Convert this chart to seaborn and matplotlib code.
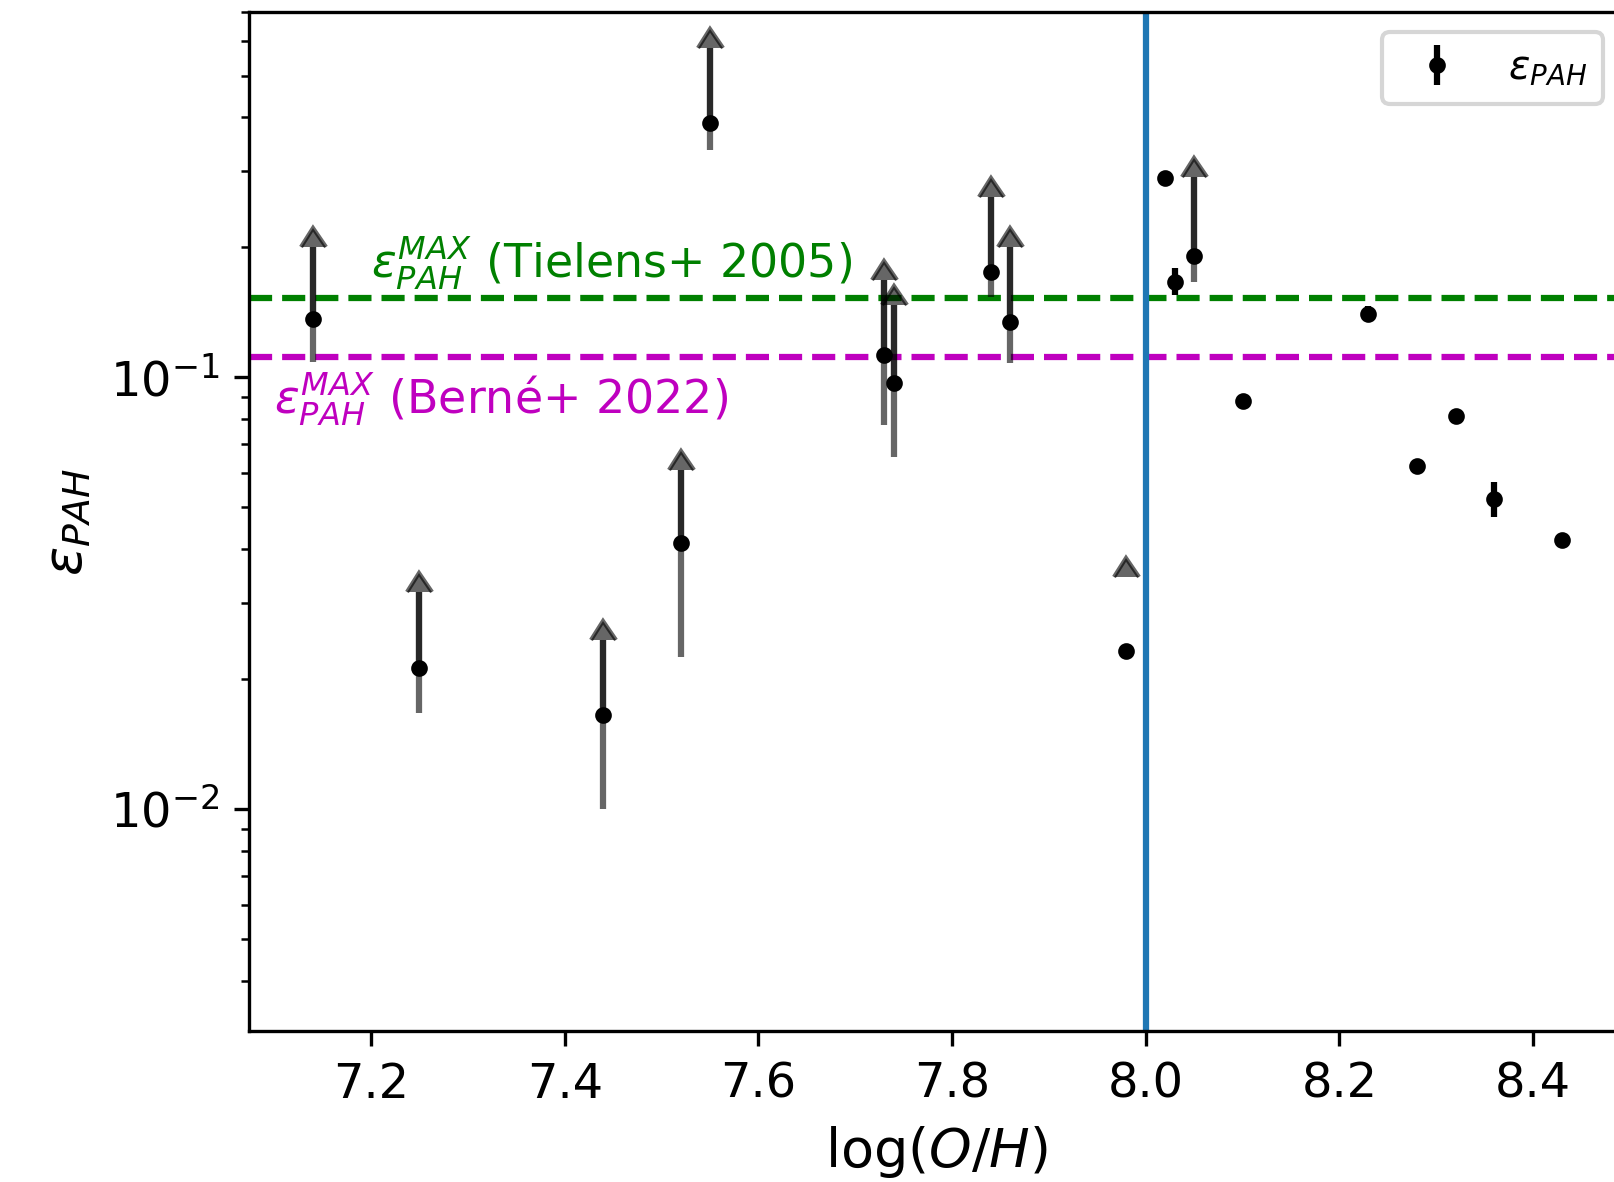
import matplotlib
matplotlib.use("Agg")
import numpy as np
import matplotlib.pyplot as plt
import seaborn as sns


# points with measured uncertainties
oh = [8.02, 8.03, 8.10, 8.23, 8.28, 8.32, 8.36, 8.43]
eps = [0.289, 0.166, 0.088, 0.140, 0.0625, 0.0816, 0.0523, 0.042]
eps_err_lo = [0.002, 0.011, 0.002, 0.005, 0.0015, 0.001, 0.0048, 0.001]
eps_err_hi = [0.002, 0.013, 0.002, 0.006, 0.0015, 0.001, 0.0049, 0.001]

# lower limits (dot, bottom of bar, arrow start, arrow head)
lim_oh = [7.14, 7.25, 7.44, 7.52, 7.55, 7.73, 7.74, 7.84, 7.86, 7.98, 8.05]
lim_eps = [0.1365, 0.0212, 0.0165, 0.0413, 0.3885, 0.1126, 0.0972, 0.1755, 0.1345, 0.0232, 0.1915]
lim_low = [0.1087, 0.0167, 0.0100, 0.0225, 0.336, 0.0776, 0.0654, 0.1537, 0.1077, 0.0345, 0.1662]
lim_start = [0.1365, 0.0212, 0.0165, 0.0413, 0.3885, 0.1126, 0.0972, 0.1755, 0.1345, 0.0345, 0.1915]
lim_top = [0.2005, 0.0319, 0.0246, 0.0612, 0.5775, 0.168, 0.147, 0.2618, 0.2005, 0.0345, 0.2911]

eps_max_tielens = 0.153
eps_max_berne = 0.1116
oh_split = 8.0

sns.set_style("ticks", {"axes.edgecolor": "black", "text.color": "black",
                        "xtick.color": "black", "ytick.color": "black",
                        "axes.labelcolor": "black"})
plt.rcParams['font.family'] = ['DejaVu Sans']

fig = plt.figure(figsize=(5.38, 3.94), dpi=300)
ax = fig.add_axes([0.1543, 0.1274, 0.8513, 0.8621])

ax.axhline(eps_max_tielens, color='g', ls='--')
ax.axhline(eps_max_berne, color='m', ls='--')
ax.axvline(oh_split, color='C0', lw=1.5)

lim_oh = np.array(lim_oh)
lim_low = np.array(lim_low)
lim_start = np.array(lim_start)
lim_top = np.array(lim_top)

ax.errorbar(lim_oh, lim_start, yerr=[lim_start - lim_low, lim_top - lim_start],
            fmt='none', color='k', ecolor='k', alpha=0.6)
ax.errorbar(lim_oh, lim_start, yerr=lim_top - lim_start, lolims=True,
            fmt='none', color='k', ecolor='k', alpha=0.6)

all_oh = list(lim_oh) + oh
all_eps = lim_eps + eps
all_lo = [0] * len(lim_eps) + eps_err_lo
all_hi = [0] * len(lim_eps) + eps_err_hi
ax.errorbar(all_oh, all_eps, yerr=[all_lo, all_hi], fmt='k.',
            label=r'$\varepsilon_{PAH}$')

ax.text(7.2, 0.17, r'$\varepsilon_{PAH}^{MAX}$ (Tielens+ 2005)', color='g', fontsize=11)
ax.text(7.1, 0.0825, r'$\varepsilon_{PAH}^{MAX}$ (Berné+ 2022)', color='m', fontsize=11)

ax.set_yscale('log')
ax.set_xlim(7.074, 8.493)
ax.set_ylim(0.00306, 0.70)
ax.tick_params(labelsize=11.5)
ax.set_xlabel(r'$\log(O/H)$', fontsize=13)
ax.set_ylabel(r'$\varepsilon_{PAH}$', fontsize=13)
ax.legend(loc='upper right', fontsize=9.5)

fig.savefig('out.png', dpi=300)
